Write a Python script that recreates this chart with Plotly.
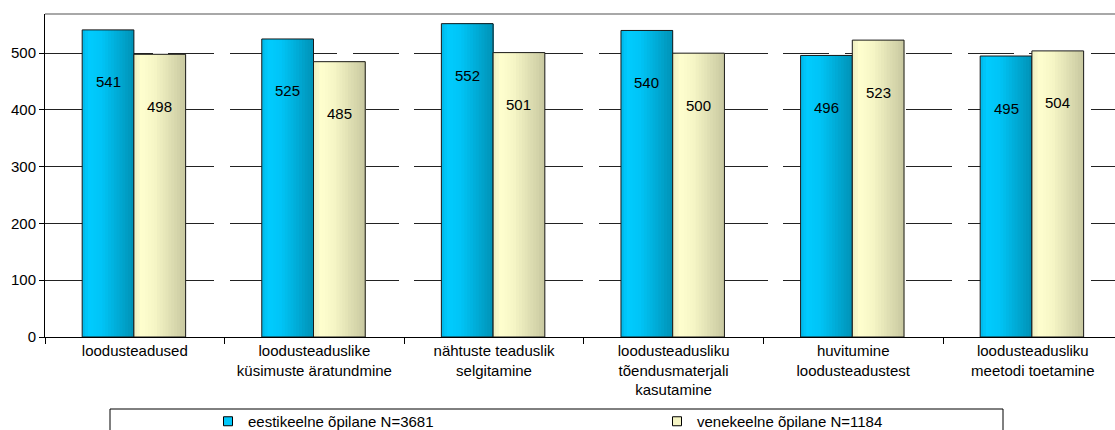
import plotly.graph_objects as go

# ---------------- data ----------------
categories = [
    "loodusteadused",
    "loodusteaduslike<br>küsimuste äratundmine",
    "nähtuste teaduslik<br>selgitamine",
    "loodusteadusliku<br>tõendusmaterjali<br>kasutamine",
    "huvitumine<br>loodusteadustest",
    "loodusteadusliku<br>meetodi toetamine",
]
est_values = [541, 525, 552, 540, 496, 495]
rus_values = [498, 485, 501, 500, 523, 504]
series_names = ["eestikeelne õpilane N=3681", "venekeelne õpilane N=1184"]
y_tick_values = [0, 100, 200, 300, 400, 500]

# ---------------- style ----------------
FONT = "Liberation Sans, Arial, sans-serif"
BAR_W = 0.288
OFFSETS = [-0.293, -0.005]
N_STRIPS = 18

blue_stops = [(0.0, (0, 182, 230)), (0.12, (0, 204, 255)), (0.38, (0, 196, 246)), (1.0, (0, 146, 182))]
cream_stops = [(0.0, (238, 238, 194)), (0.15, (255, 255, 206)), (0.40, (246, 246, 198)), (1.0, (200, 200, 160))]
legend_colors = ["#00C8FA", "#F4F4C4"]


def grad(stops, t):
    for (t0, c0), (t1, c1) in zip(stops[:-1], stops[1:]):
        if t0 <= t <= t1:
            f = (t - t0) / (t1 - t0) if t1 > t0 else 0
            c = [round(a + (b - a) * f) for a, b in zip(c0, c1)]
            return "rgb(%d,%d,%d)" % tuple(c)
    return "rgb(%d,%d,%d)" % stops[-1][1]


fig = go.Figure()

for values, off, stops in [(est_values, OFFSETS[0], blue_stops), (rus_values, OFFSETS[1], cream_stops)]:
    # gradient made of overlaid strips, each reaching the bar's right edge
    for k in range(N_STRIPS):
        t0 = k / N_STRIPS
        fig.add_trace(go.Bar(
            x=categories, y=values,
            offset=off + BAR_W * t0, width=BAR_W * (1 - t0),
            marker=dict(color=grad(stops, (k + 0.5) / N_STRIPS), line=dict(width=0)),
            showlegend=False, hoverinfo="skip",
        ))
    # outline
    fig.add_trace(go.Bar(
        x=categories, y=values, offset=off, width=BAR_W,
        marker=dict(color="rgba(0,0,0,0)", line=dict(color="#1a1a1a", width=1)),
        showlegend=False, hoverinfo="y",
    ))

# legend entries
for name, col in zip(series_names, legend_colors):
    fig.add_trace(go.Scatter(
        x=[None], y=[None], mode="markers", name=name,
        marker=dict(symbol="square", size=9, color=col, line=dict(color="#000", width=1)),
    ))

# value labels
annotations = []
for values, off in [(est_values, OFFSETS[0]), (rus_values, OFFSETS[1])]:
    for i, v in enumerate(values):
        annotations.append(dict(
            x=i + off + BAR_W / 2, y=v, xref="x", yref="y",
            text=str(v), showarrow=False, yshift=-52,
            font=dict(family=FONT, size=15, color="#000"),
        ))

plot_left, plot_right, plot_top, plot_bottom = 45, 1115, 14, 337
pw, ph = plot_right - plot_left, plot_bottom - plot_top


def px_x(p):
    return (p - plot_left) / pw


def px_y(p):
    return (plot_bottom - p) / ph


fig.update_layout(
    width=1115, height=430,
    margin=dict(l=plot_left, r=1115 - plot_right, t=plot_top, b=430 - plot_bottom, autoexpand=False),
    paper_bgcolor="white", plot_bgcolor="white",
    barmode="overlay",
    font=dict(family=FONT, size=15, color="#000"),
    annotations=annotations,
    showlegend=True,
    legend=dict(
        orientation="h", x=px_x(208), y=px_y(405), xanchor="left", yanchor="top",
        entrywidth=404, entrywidthmode="pixels",
        font=dict(family=FONT, size=15, color="#000"),
        bgcolor="rgba(0,0,0,0)", borderwidth=0,
    ),
    shapes=[
        dict(type="line", xref="paper", yref="paper", x0=0, x1=1, y0=1, y1=1,
             line=dict(color="#A8A8A8", width=2)),
        dict(type="rect", xref="paper", yref="paper",
             x0=px_x(110), x1=px_x(1003), y0=px_y(409), y1=px_y(450),
             line=dict(color="#000", width=1), fillcolor="rgba(0,0,0,0)"),
    ],
    xaxis=dict(
        type="category", range=[-0.5, -0.5 + pw / 179.6],
        showline=True, linecolor="#000", linewidth=1,
        ticks="outside", tickson="boundaries", ticklen=6, tickcolor="#000",
        showgrid=False, zeroline=False,
        tickfont=dict(family=FONT, size=15, color="#000"),
    ),
    yaxis=dict(
        range=[0, 569], tickvals=y_tick_values,
        showline=True, linecolor="#000", linewidth=1,
        ticks="outside", ticklen=5, tickcolor="#000",
        showgrid=True, gridcolor="#222", gridwidth=1, griddash="46px,15.5px",
        zeroline=False,
        tickfont=dict(family=FONT, size=15, color="#000"),
    ),
)

fig.write_html(
    "out.html",
    config={"displayModeBar": False},
    post_script="document.body.style.margin='0px';document.body.style.overflow='hidden';",
)
